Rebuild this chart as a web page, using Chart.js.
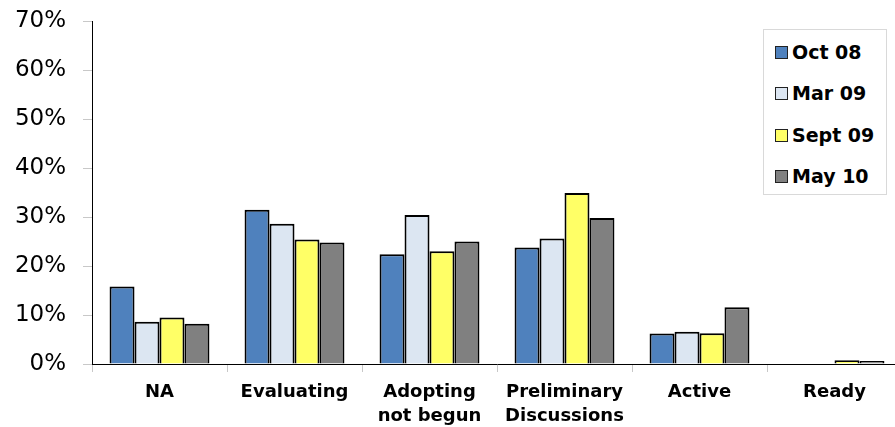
<!DOCTYPE html>
<html>
<head>
<meta charset="utf-8">
<script src="https://cdn.jsdelivr.net/npm/chart.js@4/dist/chart.umd.min.js"></script>
<style>
  html, body { margin: 0; padding: 0; background: #fff; overflow: hidden; }
  #wrap { position: relative; width: 895px; height: 427px; overflow: hidden; }
  #legend {
    position: absolute; left: 763px; top: 29px; width: 122px; height: 164px;
    border: 1px solid #d9d9d9; background: #fff;
    font-family: 'DejaVu Sans', sans-serif; font-weight: bold; font-size: 19px; color: #000;
  }
  .item { position: absolute; left: 11px; height: 22px; line-height: 22px; white-space: nowrap; }
  .swatch { display: inline-block; width: 11px; height: 11px; border: 1px solid #222; margin-right: 4px; vertical-align: 0px; }
</style>
</head>
<body>
<div id="wrap">
  <canvas id="chart" width="905" height="427"></canvas>
  <div id="legend"></div>
</div>
<script>
// categories and series (percent)
const categories = ['NA', 'Evaluating', ['Adopting', 'not begun'], ['Preliminary', 'Discussions'], 'Active', 'Ready'];
const seriesNames = ['Oct 08', 'Mar 09', 'Sept 09', 'May 10'];
const oct08 = [15.8, 31.5, 22.4, 23.8, 6.2, 0];
const mar09 = [8.6, 28.6, 30.4, 25.6, 6.6, 0];
const sept09 = [9.5, 25.4, 23.0, 34.9, 6.3, 0.75];
const may10 = [8.2, 24.8, 25.0, 29.8, 11.6, 0.6];
const colors = ['#4f81bd', '#dce6f2', '#ffff66', '#808080'];
const yTicks = [0, 10, 20, 30, 40, 50, 60, 70];

const seriesData = [oct08, mar09, sept09, may10];

const datasets = seriesNames.map((name, i) => ({
  label: name,
  data: seriesData[i],
  backgroundColor: colors[i],
  borderColor: '#000',
  borderWidth: 2,
  categoryPercentage: 0.74,
  barPercentage: 1.0
}));

const ctx = document.getElementById('chart').getContext('2d');
new Chart(ctx, {
  type: 'bar',
  data: { labels: categories, datasets: datasets },
  options: {
    responsive: false,
    animation: false,
    layout: { padding: { top: 21, right: 3, left: 0, bottom: 0 } },
    plugins: { legend: { display: false }, tooltip: { enabled: false } },
    scales: {
      x: {
        offset: true,
        grid: { offset: true, drawOnChartArea: false, drawTicks: true, tickLength: 8, color: '#c8c8c8' },
        border: { color: '#000', width: 1 },
        ticks: {
          color: '#000', padding: 8, maxRotation: 0, autoSkip: false,
          font: { family: 'DejaVu Sans', weight: 'bold', size: 18, lineHeight: 1.33 }
        },
        afterFit: (scale) => { scale.height = 63; }
      },
      y: {
        min: 0, max: 70,
        afterBuildTicks: (scale) => { scale.ticks = yTicks.map(v => ({ value: v })); },
        grid: { drawOnChartArea: false, drawTicks: true, tickLength: 9, color: '#c8c8c8' },
        border: { color: '#000', width: 1 },
        ticks: {
          color: '#000', padding: 17,
          font: { family: 'DejaVu Sans', size: 23 },
          callback: (v) => v + '%'
        },
        afterFit: (scale) => {
          scale.width = 92;
          scale.paddingTop = 0;
          scale.paddingBottom = 0;
        }
      }
    }
  }
});

// legend as html text
const legend = document.getElementById('legend');
seriesNames.forEach((name, i) => {
  const el = document.createElement('div');
  el.className = 'item';
  el.style.top = (11 + i * 41.3) + 'px';
  el.innerHTML = '<span class="swatch" style="background:' + colors[i] + '"></span>' + name;
  legend.appendChild(el);
});
</script>
</body>
</html>
